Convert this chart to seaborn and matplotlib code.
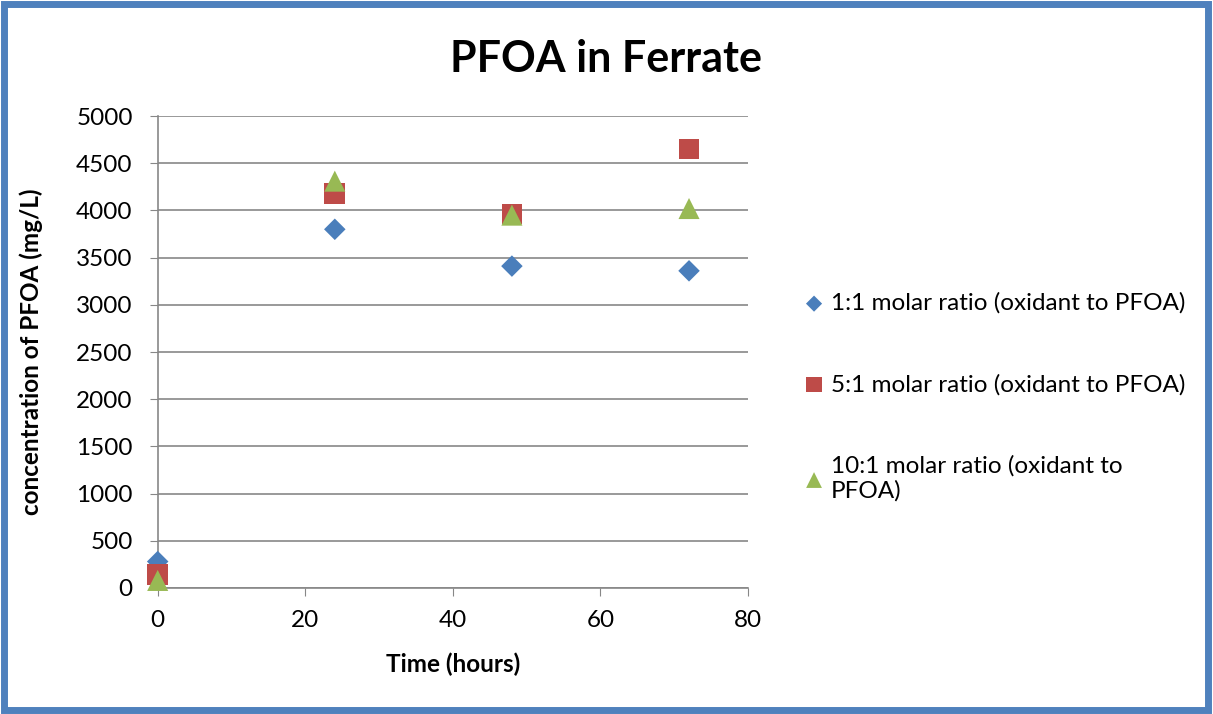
import pandas as pd
import numpy as np
import matplotlib
matplotlib.use('Agg')
import matplotlib.pyplot as plt
import seaborn as sns
from matplotlib.patches import Rectangle

time_hours = [0, 24, 48, 72]
ratio_1_1 = [280, 3800, 3410, 3360]
ratio_5_1 = [140, 4180, 3960, 4650]
ratio_10_1 = [80, 4310, 3950, 4020]
series_names = ['1:1 molar ratio (oxidant to PFOA)',
                '5:1 molar ratio (oxidant to PFOA)',
                '10:1 molar ratio (oxidant to\nPFOA)']

df = pd.DataFrame({
    'Time': time_hours * 3,
    'Conc': ratio_1_1 + ratio_5_1 + ratio_10_1,
    'Series': [series_names[0]] * 4 + [series_names[1]] * 4 + [series_names[2]] * 4,
})

sns.set_style('white')
plt.rcParams['font.family'] = ['Lato', 'DejaVu Sans']
plt.rcParams['text.color'] = 'black'
plt.rcParams['xtick.color'] = 'black'
plt.rcParams['ytick.color'] = 'black'
plt.rcParams['axes.labelcolor'] = 'black'

fig = plt.figure(figsize=(12.13, 7.14), dpi=100)
ax = fig.add_axes([0.130, 0.1765, 0.4867, 0.661])

palette = {series_names[0]: '#4A7EBB', series_names[1]: '#BE4B48', series_names[2]: '#98B954'}
markers = {series_names[0]: 'D', series_names[1]: 's', series_names[2]: '^'}
sizes = {series_names[0]: 120, series_names[1]: 220, series_names[2]: 230}

for name in series_names:
    sub = df[df['Series'] == name]
    sns.scatterplot(data=sub, x='Time', y='Conc', color=palette[name], marker=markers[name],
                    s=sizes[name], edgecolor='none', label=name, ax=ax, zorder=3, clip_on=False)

ax.set_xlim(0, 80)
ax.set_ylim(0, 5000)
ax.set_xticks([0, 20, 40, 60, 80])
ax.set_yticks(np.arange(0, 5001, 500))
ax.grid(axis='y', color='#878787', linewidth=1.2)
ax.set_axisbelow(True)
for s in ['top', 'right']:
    ax.spines[s].set_visible(False)
for s in ['left', 'bottom']:
    ax.spines[s].set_color('#878787')
    ax.spines[s].set_linewidth(1.2)
ax.tick_params(axis='both', direction='out', length=6, color='#878787', labelsize=17.5,
               left=True, bottom=True)
ax.tick_params(axis='y', pad=12)
ax.tick_params(axis='x', pad=10)
ax.set_xlabel('Time (hours)', fontsize=17.5, fontweight='bold', labelpad=15)
ax.set_ylabel('concentration of PFOA (mg/L)', fontsize=17.5, fontweight='bold', labelpad=24)
fig.suptitle('PFOA in Ferrate', fontsize=31, fontweight='bold', x=0.5, y=0.945)

ax.legend(loc='center left', bbox_to_anchor=(1.05, 0.405), frameon=False, fontsize=17.5,
          handletextpad=0.1, labelspacing=2.45, markerscale=0.75, handlelength=1.2)

fig.patches.append(Rectangle((0.003, 0.005), 0.993, 0.99, transform=fig.transFigure,
                             fill=False, edgecolor='#4F81BD', linewidth=5))

fig.savefig('out.png', dpi=100)
